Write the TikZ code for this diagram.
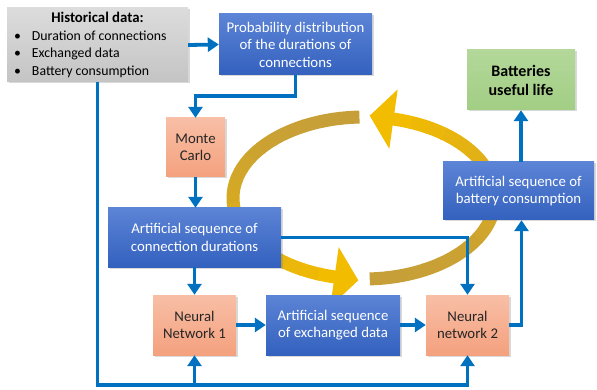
\documentclass[tikz,border=0pt]{standalone}
\usepackage{fontspec}
\setmainfont{Carlito}
\usetikzlibrary{arrows.meta,shadows,calc}
\definecolor{cblue}{HTML}{0070C0}
\definecolor{btop}{HTML}{5C84D6}
\definecolor{bbot}{HTML}{3361BE}
\definecolor{otop}{HTML}{F8BFA6}
\definecolor{obot}{HTML}{F4A17E}
\definecolor{gtop}{HTML}{B3D89A}
\definecolor{gbot}{HTML}{A2CE84}
\definecolor{grtop}{HTML}{DCDCDC}
\definecolor{grbot}{HTML}{C4C4C4}
\definecolor{gdark}{HTML}{C69F38}
\definecolor{gbright}{HTML}{F2BC00}
\definecolor{otext}{HTML}{262626}
\tikzset{
  box/.style={inner sep=2pt, align=center, font=\fontsize{14.8}{17.5}\selectfont,
    drop shadow={shadow xshift=1.5pt, shadow yshift=-1.5pt, opacity=0.3}},
  bluebox/.style={box, top color=btop, bottom color=bbot, text=white},
  orbox/.style={box, top color=otop, bottom color=obot, text=otext},
  grbox/.style={box, top color=gtop, bottom color=gbot, text=black},
  graybox/.style={box, top color=grtop, bottom color=grbot, text=black},
  link/.style={draw=cblue, line width=3.8pt, -{Triangle[width=14pt,length=11pt]}},
  goldseg/.style={line width=13pt}
}
\newcommand{\bulletline}[1]{\makebox[167pt][l]{\fontsize{13.8}{17.5}\selectfont\makebox[18pt][l]{•}#1}}
\begin{document}
\begin{tikzpicture}[x=1pt,y=-1pt]
\useasboundingbox (0,0) rectangle (597,390);
\coordinate (c) at (364,198);
% gold circular arrows
\foreach \i in {0,...,19}{
  \pgfmathsetmacro\s{-92-\i*8.3}
  \pgfmathsetmacro\e{\s-8.8}
  \pgfmathtruncatemacro\p{100*(\i/19)^1.6}
  \draw[goldseg, draw=gbright!\p!gdark] (c) ++(\s:131 and 81) arc[start angle=\s, end angle=\e, x radius=131, y radius=81];
}
\fill[gbright] (330.3,306.6) -- (358.3,280.3) -- (338.7,247.2) -- cycle;
\foreach \i in {0,...,19}{
  \pgfmathsetmacro\s{-272.5-\i*8.23}
  \pgfmathsetmacro\e{\s-8.7}
  \pgfmathtruncatemacro\p{100*(\i/19)^1.6}
  \draw[goldseg, draw=gbright!\p!gdark] (c) ++(\s:131 and 81) arc[start angle=\s, end angle=\e, x radius=131, y radius=81];
}
\fill[gbright] (397.7,89.4) -- (369.7,115.7) -- (389.3,148.8) -- cycle;

% boxes
\node[graybox, minimum width=181pt, minimum height=74pt] (hist) at (97.5,45) {%
  \textbf{Historical data:}\\
  \bulletline{Duration of connections}\\
  \bulletline{Exchanged data}\\
  \bulletline{Battery consumption}};
\node[bluebox, minimum width=153pt, minimum height=61pt] (prob) at (295.5,44.5) {Probability distribution\\of the durations of\\connections};
\node[orbox, minimum width=59pt, minimum height=59pt] (mc) at (195.5,147.5) {Monte\\Carlo};
\node[bluebox, minimum width=173pt, minimum height=59pt] (cdur) at (194.5,237.5) {Artificial sequence of\\connection durations};
\node[orbox, minimum width=83pt, minimum height=60pt] (nn1) at (194.5,325) {Neural\\Network 1};
\node[bluebox, minimum width=134pt, minimum height=60pt] (exch) at (333,325) {Artificial sequence\\of exchanged data};
\node[orbox, minimum width=83pt, minimum height=60pt] (nn2) at (467.5,325) {Neural\\network 2};
\node[bluebox, minimum width=151pt, minimum height=58pt] (batt) at (518.5,191) {Artificial sequence of\\battery consumption};
\node[grbox, minimum width=108pt, minimum height=60pt, font=\fontsize{16}{19}\selectfont\bfseries] (life) at (521,80) {Batteries\\useful life};

% connectors
\coordinate (k1) at (195.5,96);
\coordinate (b0) at (97.5,385);
\draw[link] (hist.east) -- (prob.west);
\draw[link] (prob.south) |- (k1) -- (mc.north);
\draw[link] (mc.south) -- (mc.south |- cdur.north);
\draw[link] (nn1.north |- cdur.south) -- (nn1.north);
\draw[link] (cdur.east) -| (nn2.north);
\draw[link] (nn1.east) -- (exch.west);
\draw[link] (exch.east) -- (nn2.west);
\draw[link] (nn2.east) -| ($(batt.south)+(3,0)$);
\draw[link] (life.south |- batt.north) -- (life.south);
\draw[link] (hist.south) -- (b0) -| (nn2.south);
\draw[link] (nn1.south |- b0) -- (nn1.south);
\end{tikzpicture}
\end{document}
